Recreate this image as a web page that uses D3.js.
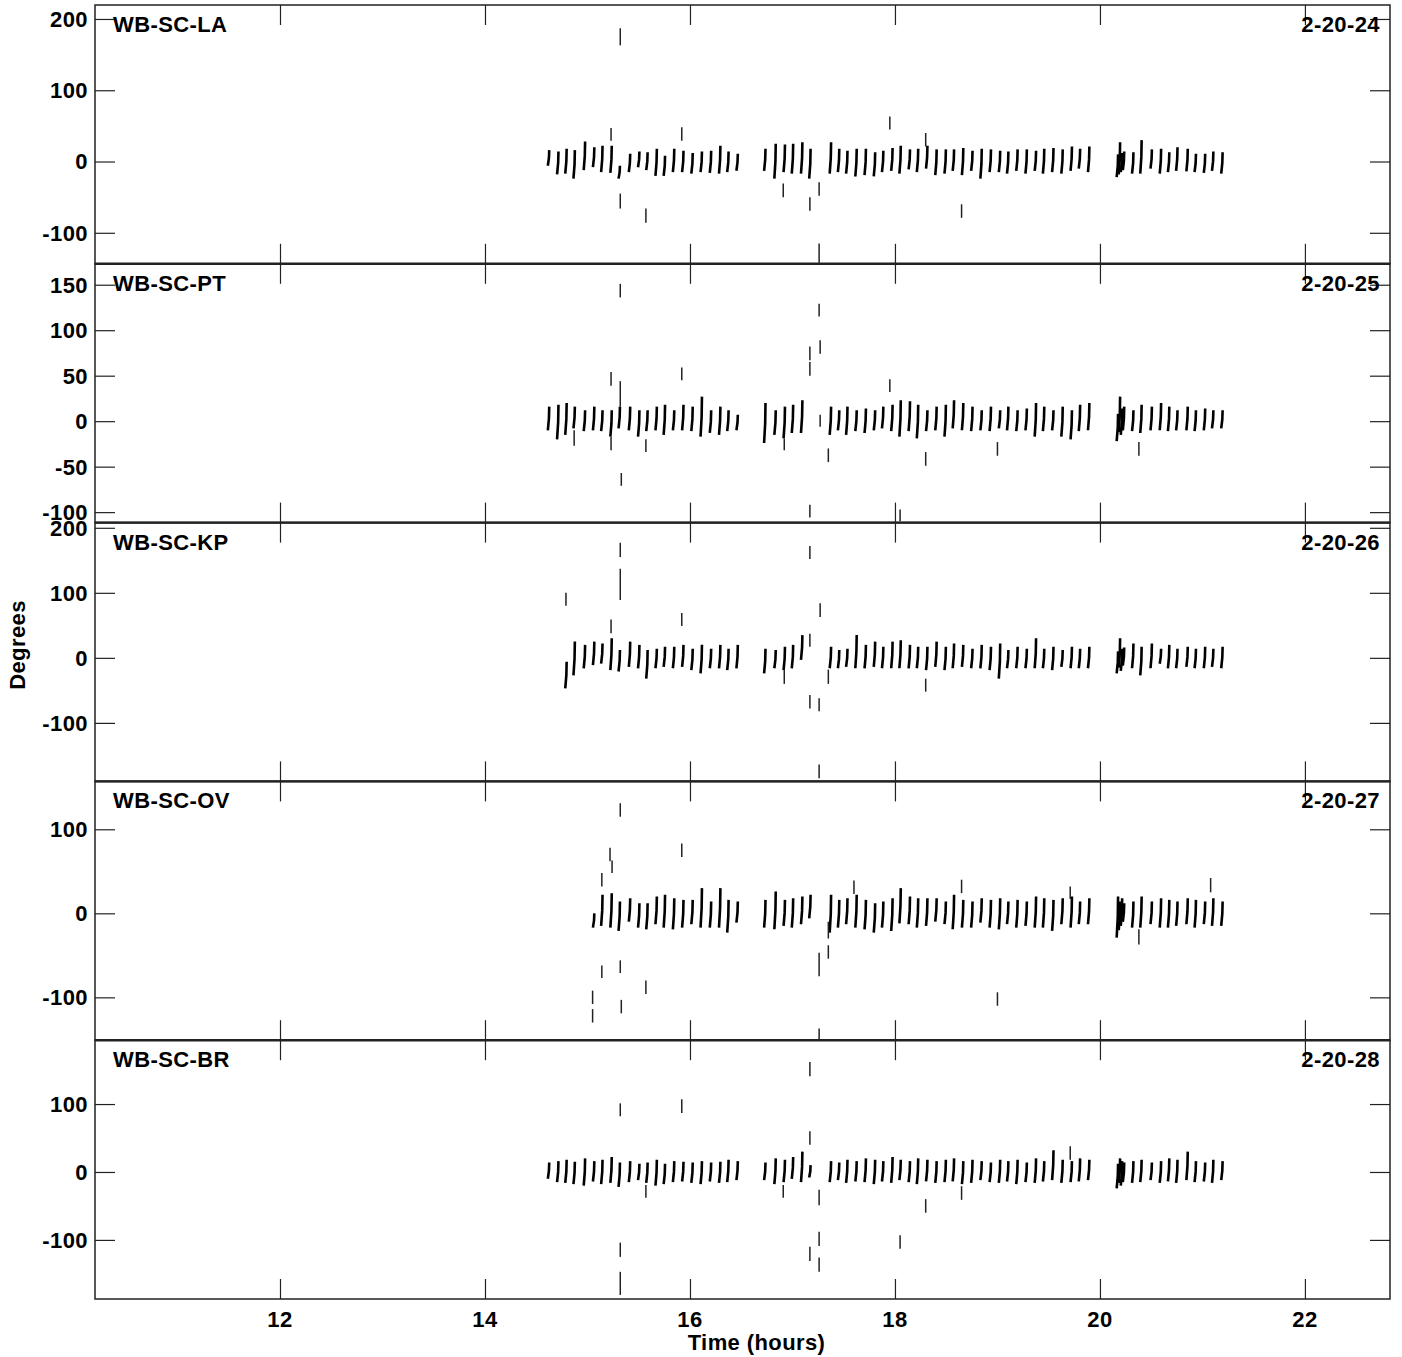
<!DOCTYPE html>
<html><head><meta charset="utf-8">
<script src="https://cdn.jsdelivr.net/npm/d3@7"></script>
<style>
html,body{margin:0;padding:0;background:#fff;}
svg text{font-family:"Liberation Sans",Arial,sans-serif;font-weight:bold;fill:#000;letter-spacing:0.4px;}
</style></head>
<body>
<svg id="chart" width="1402" height="1357"></svg>
<script>
// ---------- DATA ----------
const baselines = ["WB-SC-LA","WB-SC-PT","WB-SC-KP","WB-SC-OV","WB-SC-BR"];
const dates = ["2-20-24","2-20-25","2-20-26","2-20-27","2-20-28"];
const xTicks = [12,14,16,18,20,22];
const yTicksLA = [-100,0,100,200];
const yTicksPT = [-100,-50,0,50,100,150];
const yTicksKP = [-100,0,100,200];
const yTicksOV = [-100,0,100];
const yTicksBR = [-100,0,100];
const yDomainLA = [-143.5,219.6];
const yDomainPT = [-111.5,173];
const yDomainKP = [-190,208];
const yDomainOV = [-151,157];
const yDomainBR = [-187,194];
const xDomain = [10.195,22.83];

// scan start times (hours), common schedule
const scanTimes = [
 14.62,14.71,14.79,14.87,14.97,15.06,15.14,15.23,15.31,15.41,15.50,15.58,15.67,15.75,15.84,15.93,16.02,16.11,16.20,16.29,16.37,16.46,
 16.73,16.83,16.92,17.00,17.09,17.17,
 17.37,17.45,17.53,17.62,17.71,17.80,17.88,17.97,18.05,18.14,18.22,18.31,18.40,18.49,18.57,18.66,18.75,18.84,18.93,19.02,19.10,19.19,19.28,19.37,19.45,19.54,19.63,19.72,19.80,19.89,
 20.17,20.19,20.21,20.23,20.32,20.40,20.50,20.59,20.67,20.75,20.85,20.93,21.02,21.10,21.19];

// per-scan phase extent (degrees): low and high
const loLA = [-6,-18,-17,-24,-12,-8,-15,-16,-24,-15,-8,-12,-20,-20,-15,-15,-17,-15,-16,-17,-15,-13,
 -13,-24,-15,-17,-17,-24,
 -17,-15,-17,-21,-19,-21,-15,-13,-17,-11,-15,-10,-19,-17,-13,-19,-13,-24,-15,-15,-17,-13,-17,-13,-17,-15,-17,-13,-10,-15,
 -22,-18,-15,-12,-17,-17,-10,-17,-15,-13,-14,-15,-16,-13,-17];
const hiLA = [16,14,18,16,28,20,22,22,-6,11,14,13,18,8,18,15,12,14,15,22,14,11,
 18,25,24,25,27,18,
 27,18,15,18,18,13,15,19,22,17,18,22,17,17,17,19,15,18,17,15,14,17,17,15,18,19,17,21,18,21,
 10,27,12,14,13,30,17,18,13,20,18,11,11,14,13];
const loPT = [-10,-20,-15,-8,-11,-10,-11,-17,-8,-10,-17,-11,-10,-15,-10,-10,-11,-17,-13,-15,-11,-10,
 -24,-15,-19,-13,-13,null,
 -15,-10,-15,-11,-13,-10,-8,-11,-17,-11,-19,-11,-10,-17,-8,-10,-11,-10,-11,-8,-10,-11,-10,-17,-11,-10,-17,-20,-11,-10,
 -22,-12,-15,-10,-11,-13,-10,-10,-11,-10,-10,-11,-10,-8,-8];
const hiPT = [16,18,20,16,12,16,12,12,16,16,12,12,16,18,12,18,16,27,12,16,12,7,
 20,12,16,18,23,null,
 16,12,16,12,14,12,16,18,23,22,18,12,16,18,23,20,16,12,16,12,16,12,14,20,16,12,16,12,18,20,
 8,27,14,16,12,18,16,20,16,12,16,12,14,12,12];
const loKP = [null,null,-47,-27,-16,-11,-9,-19,-21,-14,-16,-32,-16,-14,-16,-14,-19,-24,-16,-16,-19,-16,
 -24,-16,-19,-16,-3,null,
 -16,-16,-14,-16,-16,-14,-16,-16,-16,-16,-16,-19,-14,-19,-16,-14,-16,-16,-19,-32,-16,-16,-16,-16,-16,-19,-14,-16,-16,-16,
 -24,-15,-20,-12,-16,-27,-16,-9,-16,-16,-14,-16,-16,-14,-16];
const hiKP = [null,null,-6,25,20,25,22,30,12,25,20,12,14,17,17,20,14,20,14,20,14,20,
 14,12,17,20,35,null,
 17,12,14,35,20,25,17,25,27,20,17,17,25,17,22,20,14,20,17,22,12,17,14,30,14,17,12,17,14,17,
 10,30,14,16,22,17,22,14,20,14,17,14,17,14,17];
const loOV = [null,null,null,null,null,-17,-15,-17,-21,-10,-17,-19,-13,-17,-19,-17,-13,-17,-17,-17,-23,-11,
 -17,-19,-15,-17,-13,-6,
 -23,-17,-13,-17,-19,-23,-17,-21,-12,-13,-17,-15,-10,-13,-19,-17,-17,-11,-17,-19,-13,-17,-15,-17,-17,-21,-13,-17,-13,-13,
 -29,-20,-15,-10,-17,-17,-13,-17,-17,-15,-13,-17,-13,-15,-15];
const hiOV = [null,null,null,null,null,0,22,24,14,18,12,12,20,22,18,16,16,30,14,30,16,14,
 16,26,16,18,20,22,
 22,16,18,22,16,12,14,18,30,20,18,18,18,14,22,16,14,18,16,18,14,16,14,20,18,16,18,20,14,18,
 20,14,18,12,14,20,14,18,16,14,18,16,14,18,14];
const loBR = [-10,-15,-16,-18,-20,-14,-18,-16,-22,-15,-12,-16,-20,-18,-15,-14,-16,-18,-14,-16,-15,-12,
 -12,-18,-15,-10,-15,-8,
 -15,-12,-16,-14,-15,-18,-14,-16,-12,-15,-18,-14,-16,-15,-14,-18,-16,-12,-15,-16,-14,-18,-15,-16,-14,-12,-16,-15,-14,-12,
 -24,-16,-20,-15,-16,-15,-12,-16,-14,-16,-12,-15,-14,-16,-12];
const hiBR = [14,16,18,15,20,16,18,22,14,16,12,14,18,12,16,15,14,16,14,15,18,16,
 14,20,18,22,30,10,
 16,14,18,16,20,18,16,22,18,16,20,18,16,18,20,16,18,16,14,18,16,18,14,20,16,32,18,16,20,18,
 12,20,16,14,16,18,14,16,20,18,30,16,14,18,16];

// isolated outlying scans: [time, low, high]
const outLA = [[15.23,29,47],[15.32,163,187],[15.32,-66,-45],[15.57,-86,-66],[15.92,29,48],[16.91,-50,-31],
 [17.17,-69,-50],[17.26,-48,-29],[17.26,-142,-115],[17.95,45,63],[18.30,21,40],[18.65,-79,-60]];
const outPT = [[14.87,-27,-10],[15.23,39,54],[15.23,-32,-17],[15.32,16,44],[15.32,136,151],[15.33,-71,-57],
 [15.57,-34,-20],[15.92,45,59],[16.92,-32,-19],[17.17,50,65],[17.17,67,82],[17.17,-106,-92],[17.26,115,129],
 [17.27,74,89],[17.27,-6,7],[17.35,-45,-30],[17.95,32,46],[18.05,-110,-97],[18.30,-49,-34],[19.0,-38,-23],[20.38,-38,-23]];
const outKP = [[14.79,80,100],[15.23,38,59],[15.32,155,177],[15.32,89,137],[15.92,49,69],[16.92,-40,-18],
 [17.17,152,172],[17.17,17,37],[17.17,-78,-57],[17.27,63,84],[17.26,-82,-62],[17.26,-185,-164],[17.35,-40,-18],[18.30,-52,-32]];
const outOV = [[15.05,-108,-92],[15.05,-130,-114],[15.14,32,48],[15.14,-77,-62],[15.22,62,78],[15.24,48,63],
 [15.32,115,131],[15.32,-71,-56],[15.33,-119,-103],[15.57,-96,-80],[15.92,67,83],[17.26,-75,-47],[17.26,-150,-137],
 [17.35,-54,-38],[17.35,-30,-10],[17.60,23,39],[18.65,24,40],[19.0,-110,-94],[19.71,17,32],[20.38,-37,-19],[21.08,25,42]];
const outBR = [[15.32,82,101],[15.32,-125,-104],[15.32,-181,-147],[15.57,-38,-19],[15.92,87,107],[16.91,-38,-19],
 [17.17,141,162],[17.17,40,60],[17.17,-131,-110],[17.26,-49,-26],[17.26,-109,-88],[17.26,-147,-126],
 [18.05,-113,-93],[18.30,-60,-40],[18.65,-41,-21],[19.71,18,38]];

// ---------- BUILD ----------
const panels = [
 {name:baselines[0],date:dates[0],ticks:yTicksLA,dom:yDomainLA,lo:loLA,hi:hiLA,out:outLA},
 {name:baselines[1],date:dates[1],ticks:yTicksPT,dom:yDomainPT,lo:loPT,hi:hiPT,out:outPT},
 {name:baselines[2],date:dates[2],ticks:yTicksKP,dom:yDomainKP,lo:loKP,hi:hiKP,out:outKP},
 {name:baselines[3],date:dates[3],ticks:yTicksOV,dom:yDomainOV,lo:loOV,hi:hiOV,out:outOV},
 {name:baselines[4],date:dates[4],ticks:yTicksBR,dom:yDomainBR,lo:loBR,hi:hiBR,out:outBR}
];

const svg = d3.select("#chart");
const pLeft = 95, pRight = 1390, pTop = 5, pBottom = 1299;
const ph = (pBottom - pTop) / panels.length;
const x = d3.scaleLinear().domain(xDomain).range([pLeft, pRight]);
const tickLen = 20;
const frame = "#222";
const fs = "22px";

panels.forEach((p, i) => {
  const y0 = pTop + i * ph, y1 = y0 + ph;
  const y = d3.scaleLinear().domain(p.dom).range([y1, y0]);
  const g = svg.append("g");

  // scans
  const scans = scanTimes.map((t, k) => ({t, lo: p.lo[k], hi: p.hi[k]})).filter(d => d.lo !== null);
  g.selectAll("path.scan").data(scans).join("path")
    .attr("class","scan")
    .attr("d", d => `M${x(d.t)-0.7},${y(d.lo)}L${x(d.t)+0.4},${(y(d.lo)+y(d.hi))/2}L${x(d.t)+0.7},${y(d.hi)}`)
    .attr("fill","none").attr("stroke","#000").attr("stroke-width",2.6);
  g.selectAll("line.out").data(p.out).join("line")
    .attr("class","out")
    .attr("x1", d => x(d[0])).attr("x2", d => x(d[0]))
    .attr("y1", d => y(d[1])).attr("y2", d => y(d[2]))
    .attr("stroke","#222").attr("stroke-width",1.5);

  // y axis left (ticks inward) and right
  const yl = d3.axisRight(y).tickValues(p.ticks).tickSize(tickLen).tickFormat("");
  const gl = g.append("g").attr("transform",`translate(${pLeft},0)`).call(yl);
  const yr = d3.axisLeft(y).tickValues(p.ticks).tickSize(tickLen).tickFormat("");
  const gr = g.append("g").attr("transform",`translate(${pRight},0)`).call(yr);
  [gl, gr].forEach(a => { a.select(".domain").remove(); a.selectAll("line").attr("stroke",frame).attr("stroke-width",1.2); });
  // y tick labels
  g.selectAll("text.yl").data(p.ticks).join("text")
    .attr("class","yl").attr("x", pLeft - 7).attr("y", d => y(d)).attr("dy","0.36em")
    .attr("text-anchor","end").style("font-size",fs).text(d => d);

  // x ticks top and bottom (inward)
  const xt = d3.axisBottom(x).tickValues(xTicks).tickSize(tickLen).tickFormat("");
  const gt = g.append("g").attr("transform",`translate(0,${y0})`).call(xt);
  const xb = d3.axisTop(x).tickValues(xTicks).tickSize(tickLen).tickFormat("");
  const gb = g.append("g").attr("transform",`translate(0,${y1})`).call(xb);
  [gt, gb].forEach(a => { a.select(".domain").remove(); a.selectAll("line").attr("stroke",frame).attr("stroke-width",1.2); });

  // frame
  g.append("rect").attr("x",pLeft).attr("y",y0).attr("width",pRight-pLeft).attr("height",ph)
    .attr("fill","none").attr("stroke",frame).attr("stroke-width",1.5);

  // labels
  g.append("text").attr("x", pLeft + 18).attr("y", y0 + 27).style("font-size",fs).text(p.name);
  g.append("text").attr("x", pRight - 10).attr("y", y0 + 27).attr("text-anchor","end").style("font-size",fs).text(p.date);
});

// thicker separators between panels
for (let i = 1; i < panels.length; i++) {
  svg.append("line").attr("x1",pLeft).attr("x2",pRight).attr("y1",pTop+i*ph).attr("y2",pTop+i*ph)
    .attr("stroke","#222").attr("stroke-width",2.4);
}

// x tick labels
svg.selectAll("text.xl").data(xTicks).join("text").attr("class","xl")
  .attr("x", d => x(d)).attr("y", pBottom + 28).attr("text-anchor","middle").style("font-size",fs).text(d => d);
svg.append("text").attr("x", (pLeft+pRight)/2 + 14).attr("y", pBottom + 51).attr("text-anchor","middle")
  .style("font-size",fs).text("Time (hours)");
svg.append("text").attr("transform",`translate(25,645) rotate(-90)`).attr("text-anchor","middle")
  .style("font-size",fs).text("Degrees");
</script>
</body></html>
